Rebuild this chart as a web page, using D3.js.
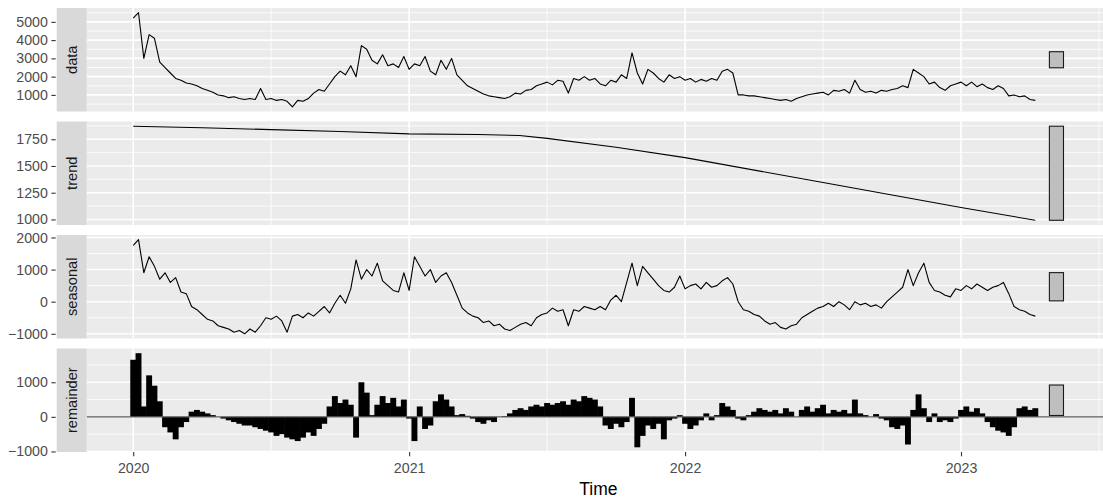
<!DOCTYPE html>
<html>
<head>
<meta charset="utf-8">
<script src="https://cdn.jsdelivr.net/npm/d3@7"></script>
<style>
  body { margin: 0; background: #fff; }
  svg { display: block; font-family: "Liberation Sans", Arial, sans-serif; }
</style>
</head>
<body>
<div id="chart"></div>
<script>
// weekly samples, first one at 2020.0
var startYear = 2020, perYear = 52;

var dataValues = [
  5200, 5500, 3000, 4300, 4100, 2800, 2500, 2200, 1900, 1800,
  1650, 1600, 1500, 1350, 1250, 1150, 1000, 950, 850, 900,
  800, 750, 800, 750, 1350, 750, 800, 700, 750, 650,
  350, 700, 650, 800, 1100, 1300, 1200, 1600, 2000, 2300,
  2100, 2600, 2000, 3700, 3500, 2900, 2700, 3200, 2600, 2700,
  2500, 3100, 2400, 2700, 2600, 3100, 2300, 2100, 2900, 2400,
  3000, 2100, 1800, 1500, 1350, 1200, 1050, 950, 900, 850,
  800, 900, 1100, 1050, 1250, 1300, 1500, 1600, 1700, 1550,
  1800, 1750, 1100, 1900, 1800, 2000, 1800, 1900, 1600, 1500,
  1800, 1700, 2100, 1900, 3300, 2200, 1600, 2400, 2200, 1900,
  1700, 2100, 1900, 2000, 1800, 1900, 1700, 1850, 1750, 1900,
  1800, 2300, 2400, 2200, 1000, 1000, 950, 950, 900, 850,
  800, 750, 700, 750, 650, 800, 900, 1000, 1050, 1100,
  1150, 1000, 1250, 1200, 1300, 1100, 1800, 1300, 1150, 1200,
  1100, 1250, 1200, 1300, 1350, 1500, 1400, 2400, 2200, 2000,
  1600, 1700, 1400, 1250, 1500, 1600, 1700, 1500, 1700, 1450,
  1600, 1400, 1300, 1500, 1350, 950, 1000, 900, 950, 750,
  700
];

var seasonalValues = [
  1750, 1930, 900, 1400, 1100, 700, 900, 600, 750, 300,
  250, -150, -250, -400, -550, -600, -750, -800, -850, -950,
  -900, -1000, -850, -950, -750, -500, -550, -450, -600, -950,
  -450, -400, -500, -350, -450, -300, -150, -350, -50, 200,
  -50, 400, 1300, 700, 1000, 800, 1200, 650, 500, 350,
  300, 900, 350, 1400, 1100, 800, 1000, 600, 800, 900,
  600, 200, -200, -350, -450, -500, -650, -600, -750, -700,
  -850, -900, -800, -700, -650, -750, -500, -400, -350, -200,
  -300, -250, -750, -250, -300, -150, -200, -250, -150, -250,
  50, 200, 0, 600, 1200, 500, 1100, 900, 700, 500,
  350, 300, 450, 800, 400, 500, 550, 400, 600, 450,
  500, 650, 750, 550, 0, -250, -300, -400, -450, -600,
  -700, -650, -800, -850, -750, -700, -500, -400, -300, -200,
  -150, -50, -150, 0, -100, -250, 0, -100, -50, -150,
  -100, -200, 0, 150, 300, 450, 1000, 500, 900, 1200,
  600, 350, 300, 200, 150, 400, 350, 500, 400, 550,
  450, 350, 450, 500, 600, 250, -150, -250, -300, -400,
  -450
];

var remainderValues = [
  1650, 1840, 300, 1200, 900, 450, -300, -450, -650, -300,
  -150, 150, 200, 150, 100, 50, 0, -50, -100, -150,
  -200, -250, -250, -300, -350, -400, -450, -550, -500, -600,
  -650, -700, -600, -450, -550, -350, -200, 300, 600, 400,
  500, 350, -600, 1000, 700, 50, 350, 600, 400, 550,
  300, 500, -50, -700, 300, -350, -250, 450, 650, 500,
  300, 50, 80, 30, -50, -150, -200, -100, -150, 0,
  20, 100, 200, 250, 200, 300, 350, 300, 400, 350,
  400, 450, 350, 500, 450, 600, 550, 500, 300, -250,
  -350, -200, -300, -150, 550, -880, -550, -250, -350, -200,
  -650, -100, -50, 50, -200, -350, -250, -100, 100, -100,
  50, 400, 300, 200, -50, -100, 50, 150, 250, 200,
  150, 200, 100, 250, 150, 0, 200, 300, 150, 250,
  350, 100, 200, 150, 200, 100, 500, 100, 50, 0,
  80, -50, -100, -300, -350, -250, -800, 200, 650, 250,
  -150, 100, -150, -100, -150, -50, 200, 300, 150, 250,
  100, -150, -300, -400, -450, -550, -300, 250, 300, 200,
  250
];

var trendYears  = [2020.0, 2020.25, 2020.5, 2020.75, 2021.0, 2021.25, 2021.4, 2021.5, 2021.75, 2022.0, 2022.5, 2023.0, 2023.269];
var trendValues = [1872, 1858, 1840, 1822, 1800, 1795, 1785, 1758, 1675, 1578, 1345, 1112, 992];

var dataTicks = [1000, 2000, 3000, 4000, 5000];
var trendTicks = [1000, 1250, 1500, 1750];
var seasonalTicks = [-1000, 0, 1000, 2000];
var remainderTicks = [-1000, 0, 1000];
var yearTicks = [2020, 2021, 2022, 2023];

var W = 1103, H = 500;
var panelLeft = 86.7, panelRight = 1110;
var panelH = 103.5, panelGap = 10, firstTop = 8;
var stripW = 30;

var svg = d3.select("#chart").append("svg")
  .attr("width", W)
  .attr("height", H);

var n = dataValues.length;
var years = d3.range(n).map(function(i) { return startYear + i / perYear; });
var lastYear = years[n - 1];
var span = lastYear - startYear;
var barLeft = lastYear + span / 64, barRight = barLeft + span / 64;
var xPad = (barRight - startYear) * 0.05;

var x = d3.scaleLinear()
  .domain([startYear - xPad, barRight + xPad])
  .range([panelLeft, panelRight]);

var parts = [
  { name: "data", values: dataValues, xs: years, ticks: dataTicks },
  { name: "trend", values: trendValues, xs: trendYears, ticks: trendTicks },
  { name: "seasonal", values: seasonalValues, xs: years, ticks: seasonalTicks },
  { name: "remainder", values: remainderValues, xs: years, ticks: remainderTicks, bars: true }
];
parts.forEach(function(p) {
  p.lo = d3.min(p.values);
  p.hi = d3.max(p.values);
});
// range bars all share the length of the smallest component range
var barLen = d3.min(parts, function(p) { return p.hi - p.lo; });

var line = d3.line()
  .x(function(d) { return x(d[0]); })
  .y(function(d) { return d[1]; });

var minorX = yearTicks.map(function(t) { return t - 0.5; }).concat([yearTicks[yearTicks.length - 1] + 0.5]);

parts.forEach(function(p, k) {
  var top = firstTop + k * (panelH + panelGap);
  var r = p.hi - p.lo;
  var y = d3.scaleLinear()
    .domain([p.lo - r * 0.05, p.hi + r * 0.05])
    .range([top + panelH, top]);
  var dom = y.domain();

  var g = svg.append("g");

  g.append("rect")
    .attr("x", panelLeft).attr("y", top)
    .attr("width", panelRight - panelLeft).attr("height", panelH)
    .attr("fill", "#EBEBEB");

  // minor grid
  var step = p.ticks[1] - p.ticks[0];
  var minorY = p.ticks.map(function(t) { return t - step / 2; })
    .concat([p.ticks[p.ticks.length - 1] + step / 2])
    .filter(function(v) { return v > dom[0] && v < dom[1]; });

  g.selectAll(".minY").data(minorY).enter().append("line")
    .attr("x1", panelLeft).attr("x2", panelRight)
    .attr("y1", function(d) { return y(d); }).attr("y2", function(d) { return y(d); })
    .attr("stroke", "#fff").attr("stroke-width", 0.8);
  g.selectAll(".minX").data(minorX.filter(function(v) { return x(v) > panelLeft && x(v) < panelRight; }))
    .enter().append("line")
    .attr("x1", function(d) { return x(d); }).attr("x2", function(d) { return x(d); })
    .attr("y1", top).attr("y2", top + panelH)
    .attr("stroke", "#fff").attr("stroke-width", 0.8);

  // major grid
  g.selectAll(".majY").data(p.ticks).enter().append("line")
    .attr("x1", panelLeft).attr("x2", panelRight)
    .attr("y1", function(d) { return y(d); }).attr("y2", function(d) { return y(d); })
    .attr("stroke", "#fff").attr("stroke-width", 1.6);
  g.selectAll(".majX").data(yearTicks).enter().append("line")
    .attr("x1", function(d) { return x(d); }).attr("x2", function(d) { return x(d); })
    .attr("y1", top).attr("y2", top + panelH)
    .attr("stroke", "#fff").attr("stroke-width", 1.6);

  if (p.bars) {
    var w = x(startYear + 1 / perYear) - x(startYear);
    g.selectAll(".rem").data(p.values).enter().append("rect")
      .attr("x", function(d, i) { return x(p.xs[i]) - w / 2 - 0.3; })
      .attr("width", w + 0.6)
      .attr("y", function(d) { return y(Math.max(0, d)); })
      .attr("height", function(d) { return Math.abs(y(d) - y(0)); })
      .attr("fill", "#000");
    g.append("line")
      .attr("x1", panelLeft).attr("x2", panelRight)
      .attr("y1", y(0)).attr("y2", y(0))
      .attr("stroke", "#595959").attr("stroke-width", 1.2);
  } else {
    var pts = p.values.map(function(v, i) { return [p.xs[i], y(v)]; });
    g.append("path")
      .attr("d", line(pts))
      .attr("fill", "none")
      .attr("stroke", "#000")
      .attr("stroke-width", 1.1)
      .attr("stroke-linejoin", "round");
  }

  // range bar
  var mid = (p.lo + p.hi) / 2;
  g.append("rect")
    .attr("x", x(barLeft)).attr("width", x(barRight) - x(barLeft))
    .attr("y", y(mid + barLen / 2))
    .attr("height", y(mid - barLen / 2) - y(mid + barLen / 2))
    .attr("fill", "#BFBFBF")
    .attr("stroke", "#1a1a1a")
    .attr("stroke-width", 1.1);

  // strip on the left
  g.append("rect")
    .attr("x", panelLeft - stripW).attr("y", top)
    .attr("width", stripW).attr("height", panelH)
    .attr("fill", "#D9D9D9");
  g.append("text")
    .attr("transform", "translate(" + (panelLeft - stripW / 2) + "," + (top + panelH / 2) + ") rotate(-90)")
    .attr("text-anchor", "middle")
    .attr("dy", "0.35em")
    .attr("fill", "#1A1A1A")
    .style("font-size", "14.6px")
    .text(p.name);

  // y axis
  var ax = svg.append("g")
    .attr("transform", "translate(" + (panelLeft - stripW - 1) + ",0)")
    .call(d3.axisLeft(y).tickValues(p.ticks).tickSize(4.3).tickPadding(3.5).tickFormat(d3.format("d")));
  ax.select(".domain").remove();
  ax.selectAll(".tick line").attr("stroke", "#333333").attr("stroke-width", 1.1);
  ax.selectAll(".tick text").attr("fill", "#4D4D4D").style("font-size", "14.2px").attr("font-family", null);

  p.bottom = top + panelH;
});

var xa = svg.append("g")
  .attr("transform", "translate(0," + parts[parts.length - 1].bottom + ")")
  .call(d3.axisBottom(x).tickValues(yearTicks).tickSize(4.3).tickPadding(6.5).tickFormat(d3.format("d")));
xa.select(".domain").remove();
xa.selectAll(".tick line").attr("stroke", "#333333").attr("stroke-width", 1.1);
xa.selectAll(".tick text").attr("fill", "#4D4D4D").style("font-size", "14.2px").attr("font-family", null);

svg.append("text")
  .attr("x", (panelLeft + panelRight) / 2)
  .attr("y", 495)
  .attr("text-anchor", "middle")
  .attr("fill", "#000")
  .style("font-size", "17.5px")
  .text("Time");
</script>
</body>
</html>
